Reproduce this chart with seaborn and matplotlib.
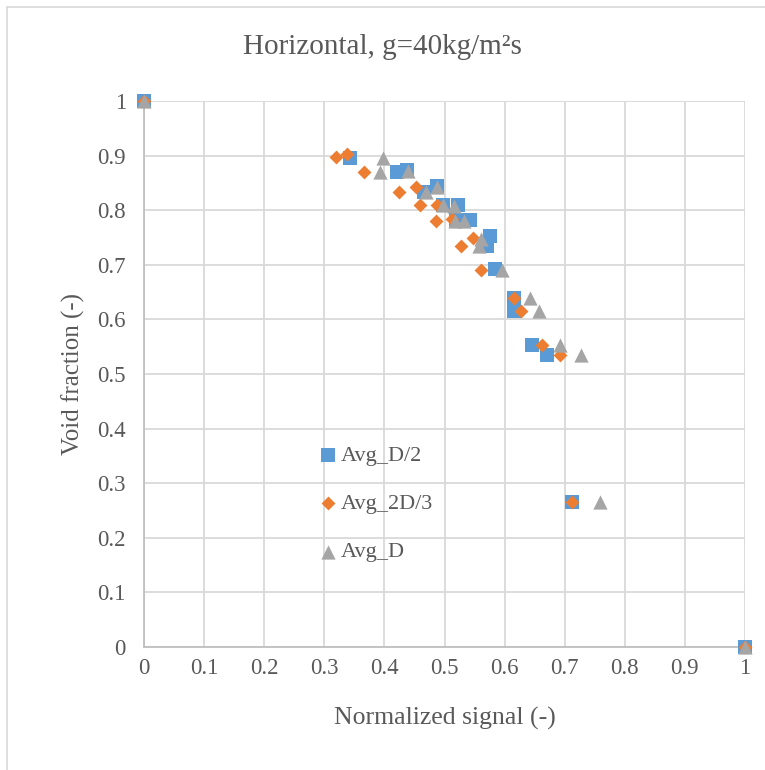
import matplotlib
matplotlib.use("Agg")
import matplotlib.pyplot as plt
from matplotlib.lines import Line2D
import seaborn as sns
import pandas as pd

# Normalized signal vs. void fraction for three probe positions
x_d2 = [0.0, 0.342, 0.421, 0.438, 0.466, 0.487, 0.497, 0.522, 0.519, 0.542,
        0.576, 0.571, 0.584, 0.615, 0.616, 0.645, 0.671, 0.712, 1.0]
y_d2 = [1.0, 0.896, 0.870, 0.873, 0.834, 0.844, 0.810, 0.810, 0.782, 0.782,
        0.752, 0.734, 0.693, 0.639, 0.616, 0.554, 0.535, 0.265, 0.0]

x_2d3 = [0.0, 0.320, 0.337, 0.366, 0.424, 0.453, 0.460, 0.487, 0.486, 0.512,
         0.547, 0.528, 0.560, 0.615, 0.628, 0.663, 0.693, 0.712, 1.0]
y_2d3 = [1.0, 0.898, 0.903, 0.870, 0.834, 0.843, 0.810, 0.810, 0.781, 0.783,
         0.750, 0.734, 0.690, 0.639, 0.615, 0.553, 0.535, 0.265, 0.0]

x_d = [0.0, 0.398, 0.392, 0.440, 0.469, 0.487, 0.497, 0.515, 0.517, 0.532,
       0.560, 0.557, 0.595, 0.643, 0.658, 0.693, 0.727, 0.758, 1.0]
y_d = [1.0, 0.896, 0.870, 0.872, 0.834, 0.842, 0.810, 0.808, 0.781, 0.781,
       0.748, 0.734, 0.690, 0.640, 0.616, 0.553, 0.535, 0.265, 0.0]

series = ["Avg_D/2", "Avg_2D/3", "Avg_D"]
colors = {"Avg_D/2": "#5B9BD5", "Avg_2D/3": "#ED7D31", "Avg_D": "#A5A5A5"}
markers = {"Avg_D/2": "s", "Avg_2D/3": "D", "Avg_D": "^"}
sizes = {"Avg_D/2": 115, "Avg_2D/3": 50, "Avg_D": 105}

df = pd.concat([
    pd.DataFrame({"signal": x_d2, "void": y_d2, "series": series[0]}),
    pd.DataFrame({"signal": x_2d3, "void": y_2d3, "series": series[1]}),
    pd.DataFrame({"signal": x_d, "void": y_d, "series": series[2]}),
], ignore_index=True)

sns.set_style("white")
plt.rcParams["font.family"] = ["Liberation Serif", "DejaVu Serif"]
text_color = "#595959"
grid_color = "#D9D9D9"

fig = plt.figure(figsize=(7.65, 7.70), dpi=100)
ax = fig.add_axes([144 / 765, 1 - 647 / 770, 601 / 765, 546 / 770])

for name in series:
    sub = df[df["series"] == name]
    sns.scatterplot(data=sub, x="signal", y="void", ax=ax, color=colors[name],
                    marker=markers[name], s=sizes[name], linewidth=0,
                    label=name, clip_on=False, zorder=3)

ax.set_xlim(0, 1)
ax.set_ylim(0, 1)
ticks = [i / 10 for i in range(11)]
tick_labels = ["0"] + [f"{t:.1f}" for t in ticks[1:-1]] + ["1"]
ax.set_xticks(ticks)
ax.set_xticklabels(tick_labels)
ax.set_yticks(ticks)
ax.set_yticklabels(tick_labels)
ax.grid(True, color=grid_color, linewidth=1.3)
ax.set_axisbelow(True)
for side in ["top", "right"]:
    ax.spines[side].set_visible(False)
for side in ["left", "bottom"]:
    ax.spines[side].set_color("#BFBFBF")
    ax.spines[side].set_linewidth(1.3)
ax.tick_params(axis="both", length=0, labelsize=16.5, colors=text_color)
ax.tick_params(axis="x", pad=8)
ax.tick_params(axis="y", pad=13)

ax.set_xlabel("Normalized signal (-)", fontsize=18.5, color=text_color, labelpad=20)
ax.set_ylabel("Void fraction (-)", fontsize=18, color=text_color, labelpad=9)
fig.text(0.5, 1 - 47 / 770, "Horizontal, g=40kg/m²s", ha="center",
         va="center", fontsize=21, color=text_color)

leg = ax.legend(loc="upper left", bbox_to_anchor=(0.265, 0.39), frameon=False,
                fontsize=16, labelspacing=1.25, handletextpad=0.0,
                handlelength=1.2, borderpad=0)
for t in leg.get_texts():
    t.set_color(text_color)

# light frame around the chart area
fig.add_artist(Line2D([7 / 765, 7 / 765], [0, 1 - 7 / 770], color=grid_color, lw=1.2))
fig.add_artist(Line2D([7 / 765, 1], [1 - 7 / 770, 1 - 7 / 770], color=grid_color, lw=1.2))

fig.savefig("out.png", dpi=100)
